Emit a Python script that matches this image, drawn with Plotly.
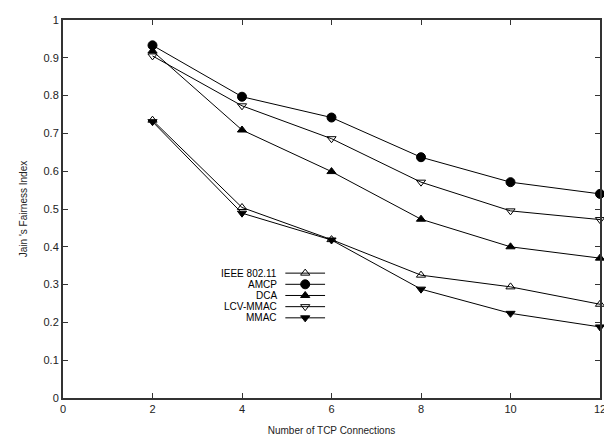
import plotly.graph_objects as go

x_conn = [2, 4, 6, 8, 10, 12]
ieee = [0.735, 0.504, 0.419, 0.325, 0.294, 0.248]
amcp = [0.933, 0.797, 0.742, 0.637, 0.571, 0.540]
dca = [0.918, 0.709, 0.599, 0.473, 0.400, 0.370]
lcv = [0.905, 0.773, 0.686, 0.571, 0.495, 0.472]
mmac = [0.731, 0.489, 0.418, 0.288, 0.224, 0.188]

series = [
    ("IEEE 802.11", ieee, "triangle-up-open", 8),
    ("AMCP", amcp, "circle", 9),
    ("DCA", dca, "triangle-up", 8),
    ("LCV-MMAC", lcv, "triangle-down-open", 8),
    ("MMAC", mmac, "triangle-down", 8),
]

FONT = "Liberation Sans, Arial, sans-serif"
# page body has an 8px margin; compensate so plot area lands at 63..604 x 15..401
L, R, T, B = 55, 8, 6, 38
W, H = 604, 433
pw, ph = W - L - R, H - T - B

fig = go.Figure()
for name, ys, sym, sz in series:
    fig.add_trace(go.Scatter(
        x=x_conn, y=ys, mode="lines+markers", name=name,
        line=dict(color="black", width=1),
        marker=dict(symbol=sym, size=sz, color="black",
                    line=dict(color="black", width=1)),
        showlegend=False, cliponaxis=False))

# gnuplot-style key on an overlay pixel axis
key_text_x = 218
key_x0, key_x1 = 224, 264
key_rows = [128.5, 117, 105.5, 94, 82.5]
for (name, ys, sym, sz), ky in zip(series, key_rows):
    fig.add_trace(go.Scatter(
        x=[key_x0, key_x1], y=[ky, ky], mode="lines", xaxis="x2", yaxis="y2",
        line=dict(color="black", width=1), showlegend=False, hoverinfo="skip"))
    fig.add_trace(go.Scatter(
        x=[(key_x0 + key_x1) / 2], y=[ky], mode="markers", xaxis="x2", yaxis="y2",
        marker=dict(symbol=sym, size=sz, color="black", line=dict(color="black", width=1)),
        showlegend=False, hoverinfo="skip"))
    fig.add_annotation(x=key_text_x, y=ky, xref="x2", yref="y2", text=name,
                       showarrow=False, xanchor="right", yanchor="middle",
                       font=dict(family=FONT, size=10, color="black"))

axcommon = dict(showgrid=False, zeroline=False, showline=True, mirror="allticks",
                linecolor="#333333", linewidth=2, ticks="inside", ticklen=5,
                tickcolor="#333333", tickwidth=1,
                tickfont=dict(family=FONT, size=11, color="#222222"))

fig.update_layout(
    width=W, height=H,
    margin=dict(l=L, r=R, t=T, b=B),
    paper_bgcolor="white", plot_bgcolor="white",
    xaxis=dict(range=[0, 12], tickvals=[0, 2, 4, 6, 8, 10, 12],
               title=dict(text="Number of TCP Connections", standoff=13,
                          font=dict(family=FONT, size=10, color="#222222")),
               **axcommon),
    yaxis=dict(range=[0, 1], tickvals=[i / 10 for i in range(11)],
               ticktext=["0", "0.1", "0.2", "0.3", "0.4", "0.5", "0.6", "0.7", "0.8", "0.9", "1"],
               title=dict(text="Jain 's Fairness Index", standoff=14,
                          font=dict(family=FONT, size=10, color="#222222")),
               **axcommon),
    xaxis2=dict(overlaying="x", range=[0, pw], visible=False, fixedrange=True),
    yaxis2=dict(overlaying="y", range=[0, ph], visible=False, fixedrange=True),
)

fig.write_html("out.html")
